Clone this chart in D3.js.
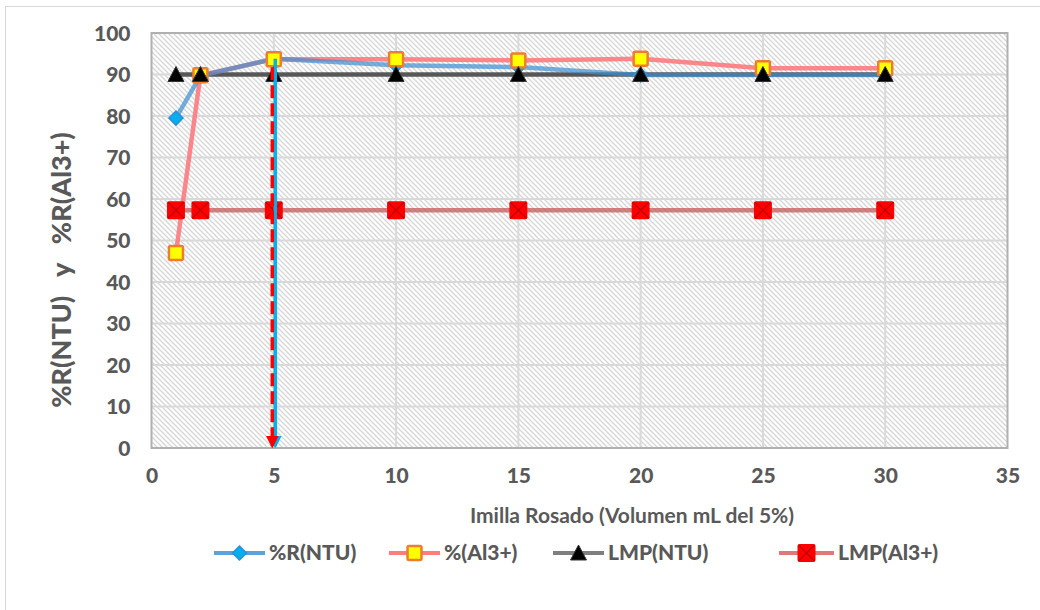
<!DOCTYPE html>
<html>
<head>
<meta charset="utf-8">
<script src="https://cdn.jsdelivr.net/npm/d3@7"></script>
<style>
  html, body { margin: 0; padding: 0; background: #fff; }
  svg { display: block; font-family: Lato, "Open Sans", "Liberation Sans", sans-serif; }
</style>
</head>
<body>
<svg id="chart" width="1040" height="610"></svg>
<script>
// Volume of Imilla Rosado extract (mL of 5% solution)
const volumes = [1, 2, 5, 10, 15, 20, 25, 30];
// Removal percentages
const removalNTU = [79.5, 89.7, 93.8, 92.2, 91.8, 89.9, 89.9, 89.9];
const removalAl = [47.0, 89.8, 93.7, 93.7, 93.4, 93.8, 91.5, 91.5];
// Permissible limits
const lmpNTU = [90, 90, 90, 90, 90, 90, 90, 90];
const lmpAl = [57.3, 57.3, 57.3, 57.3, 57.3, 57.3, 57.3, 57.3];
// Optimal dose marker
const optimalDose = 5;
const xTicks = [0, 5, 10, 15, 20, 25, 30, 35];
const yTicks = [0, 10, 20, 30, 40, 50, 60, 70, 80, 90, 100];
const seriesNames = ["%R(NTU)", "%(Al3+)", "LMP(NTU)", "LMP(Al3+)"];

const svg = d3.select("#chart");
const plot = { left: 151.5, right: 1007.5, top: 33, bottom: 448 };

const x = d3.scaleLinear().domain([0, 35]).range([plot.left, plot.right]);
const y = d3.scaleLinear().domain([0, 100]).range([plot.bottom, plot.top]);

const defs = svg.append("defs");
const pat = defs.append("pattern")
  .attr("id", "hatch").attr("patternUnits", "userSpaceOnUse")
  .attr("width", 5).attr("height", 5);
pat.append("rect").attr("width", 5).attr("height", 5).attr("fill", "#ffffff");
pat.append("path").attr("d", "M-1,-1 L6,6 M-1,4 L1,6 M4,-1 L6,1")
  .attr("stroke", "#d6d6d6").attr("stroke-width", 1.3);

const ax = defs.append("marker").attr("id", "arrowRed")
  .attr("viewBox", "0 0 10 10").attr("refX", 8).attr("refY", 5)
  .attr("markerWidth", 3.6).attr("markerHeight", 3.6).attr("orient", "auto")
  .attr("markerUnits", "strokeWidth");
ax.append("path").attr("d", "M0,0 L10,5 L0,10 Z").attr("fill", "#ff0000");
const bx = defs.append("marker").attr("id", "arrowBlue")
  .attr("viewBox", "0 0 10 10").attr("refX", 8).attr("refY", 5)
  .attr("markerWidth", 3.6).attr("markerHeight", 3.6).attr("orient", "auto")
  .attr("markerUnits", "strokeWidth");
bx.append("path").attr("d", "M0,0 L10,5 L0,10 Z").attr("fill", "#00b0f0");

// Chart frame
svg.append("rect").attr("x", 5.5).attr("y", 6.5).attr("width", 1040).attr("height", 610)
  .attr("fill", "#fff").attr("stroke", "#d9d9d9").attr("stroke-width", 1);

// Plot area background
svg.append("rect").attr("x", plot.left).attr("y", plot.top)
  .attr("width", plot.right - plot.left).attr("height", plot.bottom - plot.top)
  .attr("fill", "url(#hatch)");

// Gridlines
const grid = svg.append("g");
grid.selectAll(".hg").data(yTicks.slice(1, -1)).join("line")
  .attr("x1", plot.left).attr("x2", plot.right)
  .attr("y1", d => y(d)).attr("y2", d => y(d))
  .attr("stroke", "#d9d9d9").attr("stroke-width", 2);
grid.selectAll(".vg").data(xTicks.slice(1, -1)).join("line")
  .attr("y1", plot.top).attr("y2", plot.bottom)
  .attr("x1", d => x(d)).attr("x2", d => x(d))
  .attr("stroke", "#d9d9d9").attr("stroke-width", 2);

svg.append("rect").attr("x", plot.left).attr("y", plot.top)
  .attr("width", plot.right - plot.left).attr("height", plot.bottom - plot.top)
  .attr("fill", "none").attr("stroke", "#b0b0b0").attr("stroke-width", 2);

// Axes
const xAxis = svg.append("g").attr("transform", `translate(0,${plot.bottom})`)
  .call(d3.axisBottom(x).tickValues(xTicks).tickSize(0).tickPadding(20));
const yAxis = svg.append("g").attr("transform", `translate(${plot.left},0)`)
  .call(d3.axisLeft(y).tickValues(yTicks).tickSize(0).tickPadding(21));
[xAxis, yAxis].forEach(g => {
  g.select(".domain").remove();
  g.selectAll("text").attr("font-size", 21).attr("font-weight", 900)
    .attr("fill", "#595959").attr("font-family", "Lato, sans-serif");
});
yAxis.selectAll("text").attr("dy", "0.35em");

svg.append("text").attr("x", 632).attr("y", 523).attr("text-anchor", "middle")
  .attr("font-size", 21).attr("font-weight", 700).attr("fill", "#595959")
  .text("Imilla Rosado (Volumen mL del 5%)");
svg.append("text").attr("transform", "translate(71,270) rotate(-90)")
  .attr("text-anchor", "middle").attr("font-size", 27).attr("font-weight", 900)
  .attr("fill", "#595959").attr("xml:space", "preserve")
  .text("%R(NTU)   y   %R(Al3+)");

// Series lines
const line = d3.line().x(d => x(d[0])).y(d => y(d[1]));
const series = [
  { vals: lmpAl, color: "#c0504d", op: 0.7 },
  { vals: lmpNTU, color: "#404040", op: 0.85 },
  { vals: removalAl, color: "#ff6b70", op: 0.8 },
  { vals: removalNTU, color: "#3d8fd0", op: 0.7 }
];
series.forEach(s => {
  svg.append("path").datum(volumes.map((v, i) => [v, s.vals[i]]))
    .attr("d", line).attr("fill", "none")
    .attr("stroke", s.color).attr("stroke-opacity", s.op).attr("stroke-width", 4.5);
});

// Marker drawing helpers
function diamond(g) {
  g.append("path").attr("d", "M0,-7 L7,0 L0,7 L-7,0 Z")
    .attr("fill", "#00b0f0").attr("stroke", "#2e8fd6").attr("stroke-width", 1.5);
}
function yellowSquare(g) {
  g.append("rect").attr("x", -7).attr("y", -7).attr("width", 14).attr("height", 14)
    .attr("rx", 1.5).attr("fill", "#ffff00").attr("stroke", "#ed7d31").attr("stroke-width", 2.5);
}
function triangle(g) {
  g.append("path").attr("d", "M0,-8 L8,7 L-8,7 Z")
    .attr("fill", "#000").attr("stroke", "#333").attr("stroke-width", 1);
}
function redSquare(g) {
  g.append("rect").attr("x", -9).attr("y", -9).attr("width", 18).attr("height", 18)
    .attr("rx", 2).attr("fill", "#ff0000");
  g.append("path").attr("d", "M-8,-8 L8,8 M8,-8 L-8,8")
    .attr("stroke", "#c00000").attr("stroke-width", 1.2);
}

function drawMarkers(vals, fn) {
  volumes.forEach((v, i) => {
    const g = svg.append("g").attr("transform", `translate(${x(v)},${y(vals[i])})`);
    fn(g);
  });
}
drawMarkers(lmpAl, redSquare);
drawMarkers(removalNTU, diamond);
drawMarkers(removalAl, yellowSquare);
drawMarkers(lmpNTU, triangle);

// Optimal dose arrows
const iOpt = volumes.indexOf(optimalDose);
svg.append("line")
  .attr("x1", x(optimalDose) + 1.5).attr("x2", x(optimalDose) + 1.5)
  .attr("y1", y(removalNTU[iOpt])).attr("y2", y(0) - 2)
  .attr("stroke", "#00b0f0").attr("stroke-width", 3.5)
  .attr("marker-end", "url(#arrowBlue)");
svg.append("line")
  .attr("x1", x(optimalDose) - 1.5).attr("x2", x(optimalDose) - 1.5)
  .attr("y1", y(removalAl[iOpt]) + 8).attr("y2", y(0) - 2)
  .attr("stroke", "#ff0000").attr("stroke-width", 3.5)
  .attr("stroke-dasharray", "13,5")
  .attr("marker-end", "url(#arrowRed)");

// Legend
const legendItems = [
  { name: seriesNames[0], x0: 214, x1: 265, color: "#5ba3dc", marker: diamond },
  { name: seriesNames[1], x0: 389, x1: 440, color: "#ff7c80", marker: yellowSquare },
  { name: seriesNames[2], x0: 553, x1: 604, color: "#7f7f7f", marker: triangle },
  { name: seriesNames[3], x0: 779, x1: 834, color: "#e0787b", marker: redSquare }
];
const ly = 553;
legendItems.forEach(it => {
  const g = svg.append("g");
  g.append("line").attr("x1", it.x0).attr("x2", it.x1).attr("y1", ly).attr("y2", ly)
    .attr("stroke", it.color).attr("stroke-width", 4);
  const m = g.append("g").attr("transform", `translate(${(it.x0 + it.x1) / 2},${ly})`);
  it.marker(m);
  g.append("text").attr("x", it.x1 + 4).attr("y", ly).attr("dy", "0.35em")
    .attr("font-size", 21).attr("font-weight", 900).attr("fill", "#595959")
    .text(it.name);
});
</script>
</body>
</html>
